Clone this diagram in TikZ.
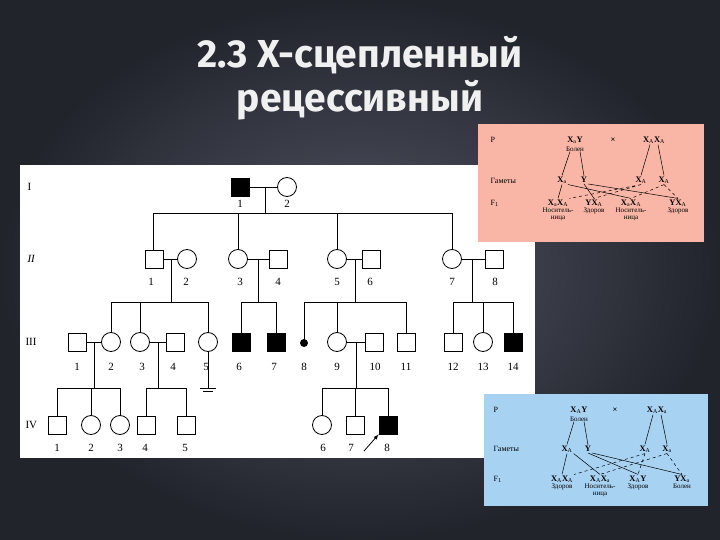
\documentclass[tikz,border=0pt]{standalone}
\usepackage{fontspec}
\setmainfont{Liberation Serif}
\newfontfamily\titlefont{Fira Sans}
\definecolor{pinkbg}{RGB}{249,182,166}
\definecolor{bluebg}{RGB}{168,210,242}
\definecolor{bgin}{RGB}{82,86,100}
\definecolor{bgout}{RGB}{34,36,44}
\begin{document}
\begin{tikzpicture}[x=1pt,y=-1pt,
 male/.style={draw,line width=0.8pt,fill=white,minimum size=18pt,inner sep=0pt},
 fem/.style={draw,circle,line width=0.8pt,fill=white,minimum size=19pt,inner sep=0pt},
 aff/.style={fill=black},
 lab/.style={font=\fontsize{11}{11}\selectfont},
 gen/.style={font=\fontsize{11}{11}\selectfont,anchor=west},
 ln/.style={line width=0.8pt},
 gt/.style={font=\bfseries\fontsize{8.5}{8.5}\selectfont,inner sep=1pt},
 sm/.style={font=\fontsize{7}{7}\selectfont,inner sep=0pt,align=center},
 rl/.style={font=\fontsize{8}{8}\selectfont,anchor=west},
 tt/.style={font=\titlefont\bfseries\fontsize{39}{39}\selectfont,text=white!88!gray,align=center},
 gl/.style={line width=0.5pt},
 gd/.style={line width=0.5pt,dashed}]
\useasboundingbox (0,0) rectangle (720,540);
\shade[inner color=bgin,outer color=bgout] (0,0) rectangle (720,540);
% title
\node[tt] (t1) at (360,55) {2.3 Х-сцепленный};
\node[tt] (t2) at (360,100) {рецессивный};
% pedigree panel
\fill[white] (20,165) rectangle (535,458);
\node[gen] (gI) at (24,187) {I};
\node[gen,font=\itshape\fontsize{11}{11}\selectfont] (gII) at (24,259) {II};
\node[gen] (gIII) at (22,342) {III};
\node[gen] (gIV) at (22,425) {IV};
\draw[ln] (240,187)--(287,187) (265,187)--(265,213) (153,213)--(452,213);
\draw[ln] (153,213)--(153,259) (238,213)--(238,259) (337,213)--(337,259) (452,213)--(452,259);
\draw[ln] (154,259)--(187,259) (171,259)--(171,302) (111,302)--(208,302);
\draw[ln] (238,259)--(278,259) (258,259)--(258,302) (241,302)--(276,302);
\draw[ln] (337,259)--(371,259) (355,259)--(355,302) (304,302)--(406,302);
\draw[ln] (452,259)--(494,259) (472,259)--(472,302) (453,302)--(513,302);
\foreach \x in {111,140,208,241,276,304,337,406,453,483,513} \draw[ln] (\x,302)--(\x,342);
\draw[ln] (77,342)--(111,342) (94,342)--(94,388) (57,388)--(120,388);
\draw[ln] (140,342)--(175,342) (158,342)--(158,388) (146,388)--(186,388);
\draw[ln] (208,342)--(208,388) (200,388)--(216,388) (203,391)--(213,391);
\draw[ln] (337,342)--(374,342) (356,342)--(356,388) (322,388)--(388,388);
\foreach \x in {57,91,120,146,186,322,355,388} \draw[ln] (\x,388)--(\x,425);
\node[male,aff] (i1) at (240,187) {}; \node[fem] (i2) at (287,187) {};
\node[lab] at (240,204) {1}; \node[lab] at (287,204) {2};
\node[male] (ii1) at (154,259) {}; \node[fem] (ii2) at (187,259) {};
\node[fem] (ii3) at (238,259) {}; \node[male] (ii4) at (278,259) {};
\node[fem] (ii5) at (337,259) {}; \node[male] (ii6) at (371,259) {};
\node[fem] (ii7) at (452,259) {}; \node[male] (ii8) at (494,259) {};
\foreach \x/\n in {151/1,186/2,240/3,278/4,337/5,370/6,452/7,495/8} \node[lab] at (\x,282) {\n};
\node[male] (iii1) at (77,342) {}; \node[fem] (iii2) at (111,342) {};
\node[fem] (iii3) at (140,342) {}; \node[male] (iii4) at (175,342) {};
\node[fem] (iii5) at (208,342) {}; \node[male,aff] (iii6) at (241,342) {};
\node[male,aff] (iii7) at (276,342) {};
\node[circle,fill=black,minimum size=8pt,inner sep=0pt] (iii8) at (304,343) {};
\node[fem] (iii9) at (337,342) {}; \node[male] (iii10) at (374,342) {};
\node[male] (iii11) at (406,342) {}; \node[male] (iii12) at (453,342) {};
\node[fem] (iii13) at (483,342) {}; \node[male,aff] (iii14) at (513,342) {};
\foreach \x/\n in {77/1,111/2,142/3,173/4,206/5,239/6,274/7,304/8,337/9,375/10,406/11,453/12,483/13,513/14} \node[lab] at (\x,367) {\n};
\node[male] (iv1) at (57,425) {}; \node[fem] (iv2) at (91,425) {};
\node[fem] (iv3) at (120,425) {}; \node[male] (iv4) at (146,425) {};
\node[male] (iv5) at (186,425) {}; \node[fem] (iv6) at (322,425) {};
\node[male] (iv7) at (355,425) {}; \node[male,aff] (iv8) at (388,425) {};
\foreach \x/\n in {57/1,91/2,120/3,145/4,185/5,323/6,351/7,387/8} \node[lab] at (\x,448) {\n};
\coordinate (arr) at (364,451);
\draw[ln,-latex] (arr)--(iv8.south west);
% pink panel
\fill[pinkbg] (478,124) rectangle (704,242);
\node[rl] (pP) at (487,140) {P};
\node[rl] (pG) at (487,181) {Гаметы};
\node[rl] (pF) at (487,203) {F$_1$};
\node[gt] (pm) at (575,140) {X$_\mathrm{a}$Y};
\node[sm] (pmb) at (575,149) {Болен};
\node[gt] (px) at (613,140) {×};
\node[gt] (pf) at (654,140) {X$_\mathrm{A}$X$_\mathrm{A}$};
\node[gt] (g1) at (562,180) {X$_\mathrm{a}$};
\node[gt] (g2) at (584,180) {Y};
\node[gt] (g3) at (641,180) {X$_\mathrm{A}$};
\node[gt] (g4) at (664,180) {X$_\mathrm{A}$};
\node[gt] (f1) at (558,203) {X$_\mathrm{a}$X$_\mathrm{A}$};
\node[gt] (f2) at (594,203) {YX$_\mathrm{A}$};
\node[gt] (f3) at (631,203) {X$_\mathrm{a}$X$_\mathrm{A}$};
\node[gt] (f4) at (678,203) {YX$_\mathrm{A}$};
\node[sm,anchor=north] at (558,208) {Носитель-\\ница};
\node[sm,anchor=north] at (594,208) {Здоров};
\node[sm,anchor=north] at (631,208) {Носитель-\\ница};
\node[sm,anchor=north] at (678,208) {Здоров};
\draw[gl] (pmb.south)++(-5,0)--(g1.north) (pmb.south)++(5,0)--(g2.north);
\draw[gl] (pf.south)++(-4,0)--(g3.north) (pf.south)++(4,0)--(g4.north);
\draw[gl] (g1.south)--(f1.north) (g1.south east)--(f3.north) (g2.south)--(f2.north) (g2.south east)--(f4.north);
\draw[gd] (g3.south)--(f1.north east) (g3.south)--(f2.north) (g4.south)--(f3.north) (g4.south)--(f4.north);
% blue panel
\fill[bluebg] (484,394) rectangle (708,506);
\node[rl] (bP) at (490,410) {P};
\node[rl] (bG) at (490,449) {Гаметы};
\node[rl] (bF) at (490,479) {F$_1$};
\node[gt] (bm) at (579,410) {X$_\mathrm{A}$Y};
\node[sm] (bmb) at (579,419) {Болен};
\node[gt] (bx) at (615,410) {×};
\node[gt] (bf) at (657,410) {X$_\mathrm{A}$X$_\mathrm{a}$};
\node[gt] (h1) at (567,449) {X$_\mathrm{A}$};
\node[gt] (h2) at (588,449) {Y};
\node[gt] (h3) at (645,449) {X$_\mathrm{A}$};
\node[gt] (h4) at (667,449) {X$_\mathrm{a}$};
\node[gt] (k1) at (562,479) {X$_\mathrm{A}$X$_\mathrm{A}$};
\node[gt] (k2) at (600,479) {X$_\mathrm{A}$X$_\mathrm{a}$};
\node[gt] (k3) at (638,479) {X$_\mathrm{A}$Y};
\node[gt] (k4) at (682,479) {YX$_\mathrm{a}$};
\node[sm,anchor=north] at (562,484) {Здоров};
\node[sm,anchor=north] at (600,484) {Носитель-\\ница};
\node[sm,anchor=north] at (638,484) {Здоров};
\node[sm,anchor=north] at (682,484) {Болен};
\draw[gl] (bmb.south)++(-5,0)--(h1.north) (bmb.south)++(5,0)--(h2.north);
\draw[gl] (bf.south)++(-4,0)--(h3.north) (bf.south)++(4,0)--(h4.north);
\draw[gl] (h1.south)--(k1.north) (h1.south east)--(k2.north) (h2.south)--(k3.north) (h2.south east)--(k4.north);
\draw[gd] (h3.south)--(k1.north east) (h3.south)--(k3.north) (h4.south)--(k2.north) (h4.south)--(k4.north);
\end{tikzpicture}
\end{document}
